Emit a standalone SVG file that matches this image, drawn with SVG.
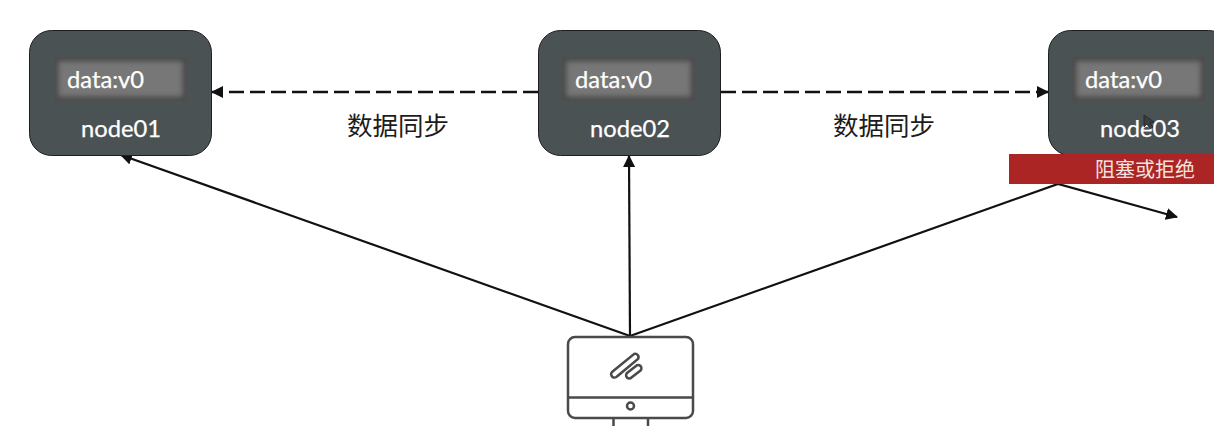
<svg xmlns="http://www.w3.org/2000/svg" width="1214" height="426" viewBox="0 0 1214 426">
<style>
.box{fill:#4b5254;stroke:#1c1f20;stroke-width:1}
.inner{fill:#777}
.edge{fill:none;stroke:#4c4c4c;stroke-width:9;filter:url(#blur)}
.t{font-family:"Lato","Noto Sans",sans-serif;font-size:23.700px;fill:#fff;stroke:#fff;stroke-width:0.250}
.cn{font-family:"Noto Sans CJK SC",sans-serif;font-size:25.500px;fill:#1c1c1c}
.line{fill:none;stroke:#111;stroke-width:2.200}
.dash{stroke-width:2.600;stroke-dasharray:15 6}
.ico{fill:none;stroke:#4a4a4a;stroke-width:2.500}
</style>
<defs>
<filter id="blur" x="-15%" y="-40%" width="130%" height="180%"><feGaussianBlur stdDeviation="2.500"/></filter>
<clipPath id="c1"><rect x="54" y="57" width="133" height="44"/></clipPath>
<clipPath id="c2"><rect x="562" y="57" width="133" height="44"/></clipPath>
<clipPath id="c3"><rect x="1072" y="57" width="133" height="44"/></clipPath>
<marker id="arr" markerUnits="userSpaceOnUse" markerWidth="13" markerHeight="12" refX="11" refY="6" orient="auto"><path d="M0 0L12 6L0 12z" fill="#111"/></marker>
</defs>
<g id="connectors">
<path class="line dash" d="M538 92H212" marker-end="url(#arr)"/>
<path class="line dash" d="M721 92H1048" marker-end="url(#arr)"/>
<path class="line" d="M630 336L121 155" marker-end="url(#arr)"/>
<path class="line" d="M630 336L629 156" marker-end="url(#arr)"/>
<path class="line" d="M630 336L1058 184L1177 217" marker-end="url(#arr)"/>
</g>
<g id="node01">
<rect class="box" x="29.500" y="30.500" width="182" height="125" rx="22"/>
<g clip-path="url(#c1)"><rect class="inner" x="54" y="57" width="133" height="44"/><rect class="edge" x="54" y="57" width="133" height="44"/></g>
<text class="t" x="67" y="88">data:v0</text>
<text class="t" x="81" y="137">node01</text>
</g>
<g id="node02">
<rect class="box" x="538.500" y="30.500" width="182" height="125" rx="22"/>
<g clip-path="url(#c2)"><rect class="inner" x="562" y="57" width="133" height="44"/><rect class="edge" x="562" y="57" width="133" height="44"/></g>
<text class="t" x="575" y="88">data:v0</text>
<text class="t" x="590" y="137">node02</text>
</g>
<g id="node03">
<rect class="box" x="1048.500" y="30.500" width="182" height="125" rx="22"/>
<g clip-path="url(#c3)"><rect class="inner" x="1072" y="57" width="133" height="44"/><rect class="edge" x="1072" y="57" width="133" height="44"/></g>
<text class="t" x="1085" y="88">data:v0</text>
<text class="t" x="1100" y="137">node03</text>
<path d="M1144 115L1144 127L1147 124L1150 129L1153 127L1150 123L1154 122Z" fill="#3a3f41" stroke="#222" stroke-width="0.800"/>
</g>
<g id="label-sync-left"><text class="cn" x="347" y="135">数据同步</text></g>
<g id="label-sync-right"><text class="cn" x="833" y="135">数据同步</text></g>
<g id="blocked">
<rect x="1009" y="154" width="205" height="30" fill="#ab2524"/>
<text class="cn" x="1095" y="177" style="font-size:20px;fill:#f3e3e0">阻塞或拒绝</text>
</g>
<g id="client">
<rect class="ico" x="568" y="337" width="125" height="81" rx="7"/>
<path class="ico" d="M568 397.500H693"/>
<circle class="ico" cx="630.500" cy="406" r="3.500"/>
<path class="ico" d="M613.500 419V426M648 419V426"/>
<path class="ico" d="M612 372L634 354A3.400 3.400 0 0 1 638 359L617 376.500A3.200 3.200 0 0 1 612 372Z"/>
<path class="ico" d="M627 373L636 366A3 3 0 0 1 640.500 370.500L631.500 377.500A3 3 0 0 1 627 373Z"/>
</g>
</svg>
